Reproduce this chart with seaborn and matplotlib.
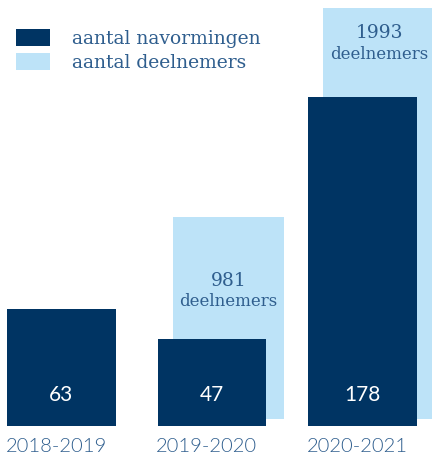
import numpy as np
import pandas as pd
import matplotlib
matplotlib.use("Agg")
import matplotlib.pyplot as plt
import seaborn as sns
from matplotlib.patches import Patch

# ---- data ----
years = ["2018-2019", "2019-2020", "2020-2021"]
navormingen = [63, 47, 178]
deelnemers = [np.nan, 981, 1993]
series_labels = ["aantal navormingen", "aantal deelnemers"]
deelnemers_word = "deelnemers"

DARK = "#003463"
LIGHT = "#bde3f8"
TEXT = "#2f5e8e"

sns.set_theme(style="white")
plt.rcParams["font.family"] = ["Lato", "DejaVu Sans"]

W, H = 432, 457
fig = plt.figure(figsize=(W / 100, H / 100), dpi=100)

xlim = (-0.4086, 2.4618)
shift = 0.11  # light bars sit a bit to the right

# light (deelnemers) axes, baseline at 419 px from top
ax2 = fig.add_axes([0, (H - 419) / H, 1, 419 / H])
# dark (navormingen) axes, baseline at 426 px from top
ax1 = fig.add_axes([0, (H - 426) / H, 1, 426 / H])
ax1.patch.set_alpha(0)

df = pd.DataFrame({"jaar": years, "nav": navormingen, "deel": deelnemers})

sns.barplot(data=df, x="jaar", y="deel", color=LIGHT, saturation=1,
            width=0.74, ax=ax2, edgecolor="none")
sns.barplot(data=df, x="jaar", y="nav", color=DARK, saturation=1,
            width=0.724, ax=ax1, edgecolor="none")

ax1.set_xlim(*xlim)
ax2.set_xlim(xlim[0] - shift, xlim[1] - shift)
ax1.set_ylim(0, 426 / 1.85)
ax2.set_ylim(0, 419 / 0.206)

for ax in (ax1, ax2):
    ax.set_axis_off()

# values inside dark bars
for i, v in enumerate(navormingen):
    ax1.annotate(str(v), xy=(i, 0), xytext=(0, 31 * 0.72), textcoords="offset points",
                 ha="center", va="center", color="white", fontsize=15,
                 family=["Lato", "DejaVu Sans"])

# year labels under the bars, left aligned with dark bar left edge
for i, y in enumerate(years):
    ax1.annotate(y, xy=(i - 0.362, 0), xytext=(-1, -20 * 0.72), textcoords="offset points",
                 ha="left", va="center", color=TEXT, fontsize=14.5,
                 family=["Lato", "DejaVu Sans"], fontweight=300,
                 annotation_clip=False)

# deelnemers labels inside light bars
label_offsets_px = [0, 56, 17]
for i, v in enumerate(deelnemers):
    if np.isnan(v):
        continue
    off = label_offsets_px[i]
    ax2.annotate(f"{int(v)}", xy=(i, v), xytext=(0, -(off + 8) * 0.72),
                 textcoords="offset points", ha="center", va="center",
                 color=TEXT, fontsize=13.5, family=["DejaVu Serif"])
    ax2.annotate(deelnemers_word, xy=(i, v), xytext=(0, -(off + 29) * 0.72),
                 textcoords="offset points", ha="center", va="center",
                 color=TEXT, fontsize=12, family=["DejaVu Serif"])

# legend
handles = [Patch(facecolor=DARK, edgecolor="none"), Patch(facecolor=LIGHT, edgecolor="none")]
leg = fig.legend(handles, series_labels, loc="upper left",
                 bbox_to_anchor=(16 / W, 1 - 29 / H), frameon=False, borderpad=0,
                 borderaxespad=0,
                 handlelength=1.8, handleheight=1.0, handletextpad=1.2,
                 labelspacing=0.3, prop={"family": "DejaVu Serif", "size": 13.5})
for t in leg.get_texts():
    t.set_color(TEXT)

fig.savefig("out.png", dpi=100)
